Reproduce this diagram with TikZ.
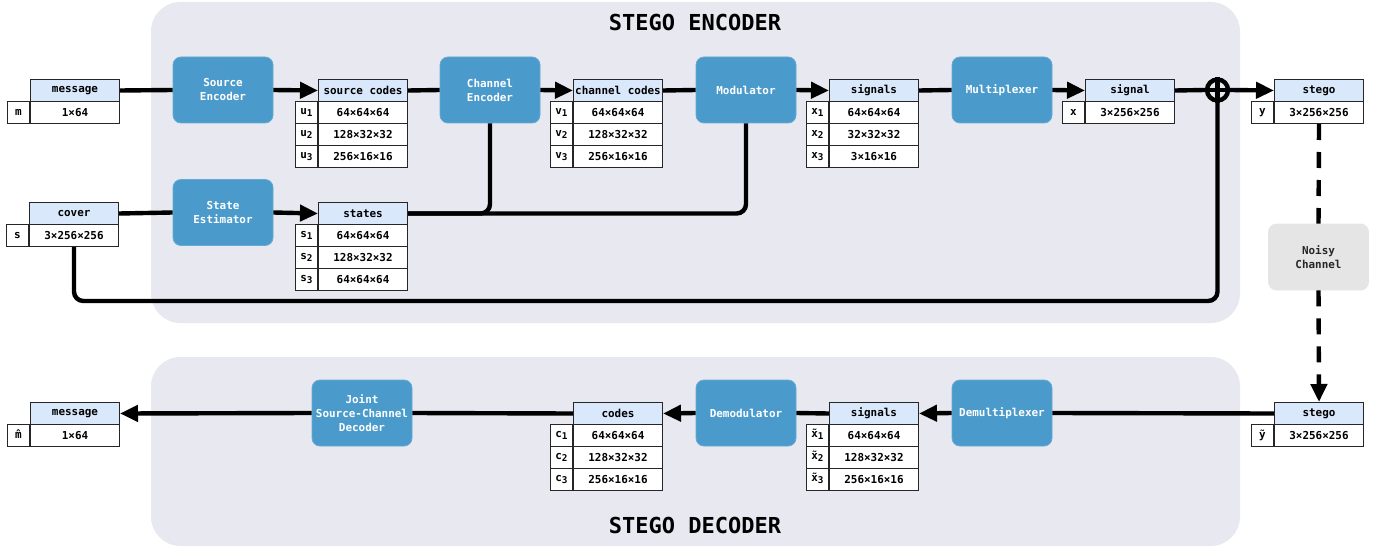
\documentclass[tikz,border=0pt]{standalone}
\usepackage{fontspec}
\setmainfont{DejaVu Sans Mono}
\usetikzlibrary{arrows.meta,calc}
\definecolor{bgc}{RGB}{232,232,241}
\definecolor{boxb}{RGB}{74,155,203}
\definecolor{hdrc}{RGB}{218,232,252}
\definecolor{ncg}{RGB}{229,229,229}
\newcommand\acc[2]{{\ooalign{#2\cr\hidewidth#1\hidewidth\cr}}}
\newcommand\sub[2]{#1\raisebox{-0.45ex}{\fontsize{7}{8}\selectfont #2}}
\tikzset{
  cellbase/.style={draw=black!85, line width=0.75pt, inner sep=0pt, minimum height=16.5pt,
    font=\fontsize{8.2}{10}\selectfont\bfseries},
  hcell/.style={cellbase, fill=hdrc, minimum width=66.75pt},
  dcell/.style={cellbase, fill=white, minimum width=66.75pt},
  lcell/.style={cellbase, fill=white, minimum width=16.5pt},
  blk/.style={fill=boxb, draw=boxb!85!white, line width=0.6pt, rounded corners=6pt, minimum width=75pt, minimum height=49.5pt,
    text=white, align=center, font=\fontsize{8.2}{10.5}\selectfont\bfseries, inner sep=0pt},
  gblk/.style={blk, fill=ncg, draw=ncg, text=black!85},
  conn/.style={line width=3.3pt, draw=black},
  arr/.style={conn, -{Triangle[length=13.5pt,width=12pt]}},
  dconn/.style={conn, dash pattern=on 12pt off 9pt},
  bgbox/.style={fill=bgc, rounded corners=22pt},
  ttl/.style={font=\fontsize{16.5}{18}\selectfont\bfseries}
}
\newcommand\tabl[5]{%
  \node[hcell, anchor=north west] (#1-h) at (#2,#3) {#4};
  \foreach \lab/\val [count=\i] in {#5}{
    \node[dcell, anchor=north west] (#1-\i) at (#2,#3+22*\i) {\val};
    \node[lcell, anchor=north east] (#1-l\i) at (#2,#3+22*\i) {\lab};
  }%
}
\begin{document}
\begin{tikzpicture}[x=0.75pt, y=-0.75pt]
\useasboundingbox (0,0) rectangle (1376,549);
% backgrounds
\fill[bgbox] (151,2) rectangle (1240,323);
\fill[bgbox] (151,357) rectangle (1240,546);
\node[ttl] (tenc) at (695,22) {STEGO ENCODER};
\node[ttl] (tdec) at (695,525) {STEGO DECODER};

% encoder tables
\tabl{msg}{30}{79}{message}{m/1×64}
\tabl{cv}{29}{202}{cover}{s/3×256×256}
\tabl{sc}{318}{79}{source codes}{\sub{u}{1}/64×64×64, \sub{u}{2}/128×32×32, \sub{u}{3}/256×16×16}
\tabl{st}{318}{202}{states}{\sub{s}{1}/64×64×64, \sub{s}{2}/128×32×32, \sub{s}{3}/64×64×64}
\tabl{cc}{573}{79}{channel codes}{\sub{v}{1}/64×64×64, \sub{v}{2}/128×32×32, \sub{v}{3}/256×16×16}
\tabl{sx}{829}{79}{signals}{\sub{x}{1}/64×64×64, \sub{x}{2}/32×32×32, \sub{x}{3}/3×16×16}
\tabl{sig}{1085}{79}{signal}{x/3×256×256}
\tabl{sg}{1274}{79}{stego}{y/3×256×256}

% decoder tables
\tabl{dsg}{1274}{402}{stego}{\acc{˜}{y}/3×256×256}
\tabl{dsx}{829}{402}{signals}{\sub{\acc{˜}{x}}{1}/64×64×64, \sub{\acc{˜}{x}}{2}/128×32×32, \sub{\acc{˜}{x}}{3}/256×16×16}
\tabl{cd}{573}{402}{codes}{\sub{c}{1}/64×64×64, \sub{c}{2}/128×32×32, \sub{c}{3}/256×16×16}
\tabl{dm}{30}{402}{message}{\acc{ˆ}{m}/1×64}

% blocks
\node[blk] (se) at (223,90) {Source\\Encoder};
\node[blk] (sest) at (223,212.5) {State\\Estimator};
\node[blk] (ce) at (490,90) {Channel\\Encoder};
\node[blk] (mod) at (746,90) {Modulator};
\node[blk] (mux) at (1002,90) {Multiplexer};
\node[gblk] (nc) at (1318.5,257) {Noisy\\Channel};
\node[blk] (jd) at (362,413) {Joint\\Source-Channel\\Decoder};
\node[blk] (dmod) at (746,413) {Demodulator};
\node[blk] (dmux) at (1002,413) {Demultiplexer};

% oplus
\node[circle, draw, line width=3.3pt, minimum size=15.75pt, inner sep=0pt] (op) at (1217.5,90) {};
\draw[line width=3.3pt] (op.north) -- (op.south) (op.west) -- (op.east);

% encoder connectors
\draw[conn] (msg-h.east) -- (se.west);
\draw[arr] (se.east) -- (sc-h.west);
\draw[conn] (sc-h.east) -- (ce.west);
\draw[arr] (ce.east) -- (cc-h.west);
\draw[conn] (cc-h.east) -- (mod.west);
\draw[arr] (mod.east) -- (sx-h.west);
\draw[conn] (sx-h.east) -- (mux.west);
\draw[arr] (mux.east) -- (sig-h.west);
\draw[conn] (sig-h.east) -- (op.west);
\draw[arr] (op.east) -- (sg-h.west);
\draw[conn] (cv-h.east) -- (sest.west);
\draw[arr] (sest.east) -- (st-h.west);
\draw[conn, rounded corners=7pt] (st-h.east) -| (ce.south);
\draw[conn, rounded corners=7pt] (st-h.east) -| (mod.south);
\draw[conn, rounded corners=7pt] (cv-1.south) -- ++(0,54) -| (op.south);
\draw[dconn] (sg-1.south) -- (nc.north);
\draw[dconn, -{Triangle[length=13.5pt,width=12pt]}] (nc.south) -- (dsg-h.north);

% decoder connectors
\draw[conn] (dsg-h.west) -- (dmux.east);
\draw[arr] (dmux.west) -- (dsx-h.east);
\draw[conn] (dsx-h.west) -- (dmod.east);
\draw[arr] (dmod.west) -- (cd-h.east);
\draw[conn] (cd-h.west) -- (jd.east);
\draw[arr] (jd.west) -- (dm-h.east);
\end{tikzpicture}
\end{document}
